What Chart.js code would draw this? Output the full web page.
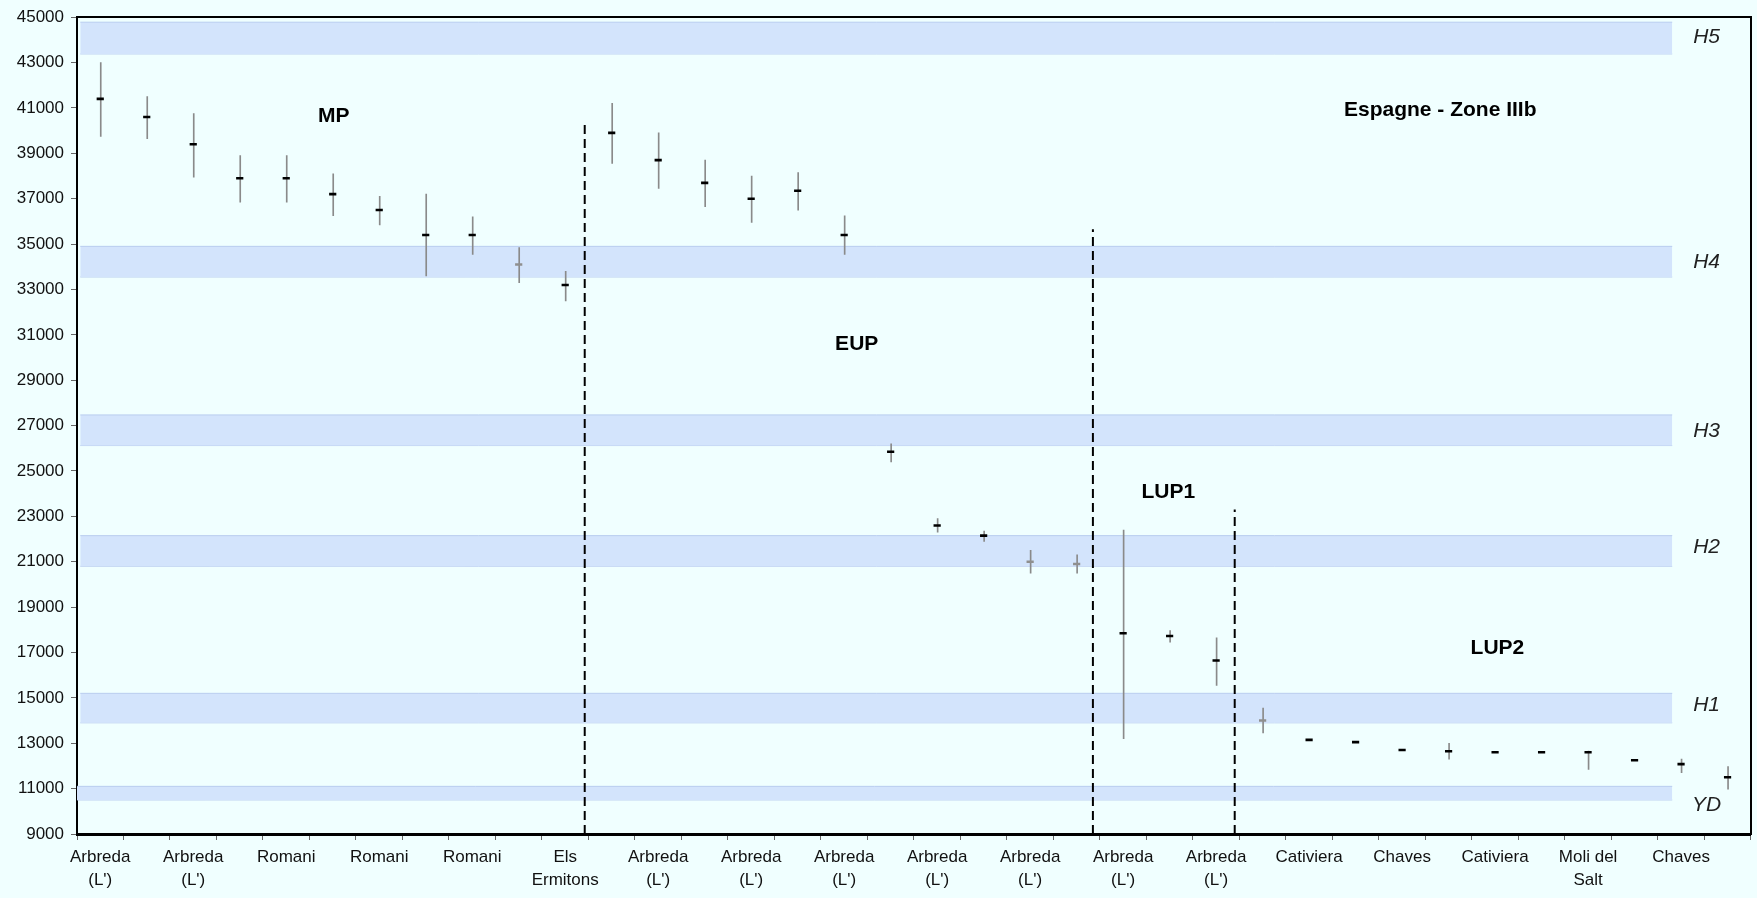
<!DOCTYPE html>
<html lang="fr">
<head>
<meta charset="utf-8">
<title>Espagne - Zone IIIb</title>
<script src="https://cdn.jsdelivr.net/npm/chart.js@4.4.1/dist/chart.umd.min.js"></script>
<style>
  html, body { margin: 0; padding: 0; background: #f0ffff; }
  #wrap { width: 1757px; height: 898px; position: relative; }
</style>
</head>
<body>
<div id="wrap"><canvas id="chart"></canvas></div>
<script>
// Sites, one per dated level (labels shown on every other level)
const categories = [
  ['Arbreda', "(L')"], '', ['Arbreda', "(L')"], '', 'Romani', '', 'Romani', '', 'Romani', '',
  ['Els', 'Ermitons'], '', ['Arbreda', "(L')"], '', ['Arbreda', "(L')"], '', ['Arbreda', "(L')"], '',
  ['Arbreda', "(L')"], '', ['Arbreda', "(L')"], '', ['Arbreda', "(L')"], '', ['Arbreda', "(L')"], '',
  'Cativiera', '', 'Chaves', '', 'Cativiera', '', ['Moli del', 'Salt'], '', 'Chaves', ''
];

// Calibrated ages (years BP)
const ages = [
  41400, 40600, 39400, 37900, 37900, 37200, 36500, 35400, 35400, 34100, 33200,
  39900, 38700, 37700, 37000, 37350, 35400, 25850, 22600, 22150, 21000, 20900,
  17850, 17730, 16650,
  14000, 13150, 13050, 12700, 12650, 12600, 12600, 12600, 12250, 12080, 11500
];

// Lower / upper bounds of each age (null: no visible range)
const ageLow = [
  39750, 39650, 37950, 36850, 36850, 36250, 35850, 33600, 34550, 33300, 32500,
  38550, 37450, 36650, 35950, 36500, 34550, 25400, 22300, 21900, 20500, 20500,
  13200, 17450, 15550,
  13450, null, null, null, 12300, null, null, 11850, null, 11700, 10980
];
const ageHigh = [
  43000, 41500, 40750, 38900, 38900, 38100, 37100, 37200, 36200, 34850, 33800,
  41200, 39900, 38700, 38000, 38150, 36250, 26200, 22900, 22350, 21500, 21300,
  22400, 17970, 17650,
  14550, null, null, null, 13000, null, null, 12650, null, 12300, 11970
];

// Levels drawn with a grey marker
const greyLevels = [9, 20, 21, 25];

// Heinrich events and Younger Dryas
const bandNames = ['H5', 'H4', 'H3', 'H2', 'H1', 'YD'];
const bandTop = [44780, 34900, 27470, 22150, 15200, 11100];
const bandBottom = [43380, 33550, 26120, 20800, 13900, 10500];
const bandLabelY = [44100, 34215, 26770, 21650, 14690, 10285];

// Period boundaries (position in level units, top age)
const dividerPos = [10.92, 21.85, 24.9];
const dividerTop = [40400, 35650, 23300];

// Period names
const periodNames = ['MP', 'EUP', 'LUP1', 'LUP2', 'Espagne - Zone IIIb'];
const periodPos = [5.52, 16.77, 23.47, 30.55, 29.32];
const periodY = [40630, 30600, 24050, 17190, 40915];

const FONT = 'Liberation Sans, Arial, Helvetica, sans-serif';
const nLevels = categories.length;

const datasets = [];

// Shaded event bands: upper edge filled down to lower edge
bandNames.forEach((name, i) => {
  const x0 = name === 'YD' ? 0 : 0.07;
  const x1 = 34.31;
  datasets.push({
    type: 'line', xAxisID: 'x2', yAxisID: 'y', order: 20,
    data: [{ x: x0, y: bandTop[i] }, { x: x1, y: bandTop[i] }],
    borderColor: '#b9cdef', borderWidth: 1, pointRadius: 0,
    backgroundColor: '#d3e4fc', fill: '+1'
  });
  datasets.push({
    type: 'line', xAxisID: 'x2', yAxisID: 'y', order: 20,
    data: [{ x: x0, y: bandBottom[i] }, { x: x1, y: bandBottom[i] }],
    borderColor: '#b9cdef', borderWidth: 1, pointRadius: 0, fill: false
  });
});

// Dashed period boundaries
dividerPos.forEach((p, i) => {
  datasets.push({
    type: 'line', xAxisID: 'x2', yAxisID: 'y', order: 5,
    data: [{ x: p, y: 9000 }, { x: p, y: dividerTop[i] }],
    borderColor: '#000', borderWidth: 2, borderDash: [9, 5],
    pointRadius: 0, fill: false
  });
});

// Age ranges as thin floating bars
datasets.push({
  type: 'bar', xAxisID: 'x', yAxisID: 'y', order: 3,
  data: ageLow.map((lo, i) => (lo === null ? null : [lo, ageHigh[i]])),
  backgroundColor: '#8a8a8a', borderWidth: 0, barThickness: 1
});

// Age markers
const markerColors = ages.map((_, i) => (greyLevels.includes(i) ? '#8f8f8f' : '#000000'));
datasets.push({
  type: 'line', xAxisID: 'x', yAxisID: 'y', order: 1,
  data: ages, showLine: false,
  pointStyle: 'line', pointRadius: 3.6, pointHoverRadius: 3.6,
  pointBorderWidth: 2.6, pointBorderColor: markerColors, pointBackgroundColor: markerColors
});

// Writes period names and band names at value coordinates
const textLabels = {
  id: 'textLabels',
  afterDatasetsDraw(chart) {
    const { ctx } = chart;
    const sx = chart.scales.x2, sy = chart.scales.y;
    ctx.save();
    ctx.fillStyle = '#000';
    ctx.textAlign = 'center';
    ctx.textBaseline = 'middle';
    ctx.font = 'bold 21px ' + FONT;
    periodNames.forEach((t, i) => {
      ctx.fillText(t, sx.getPixelForValue(periodPos[i]), sy.getPixelForValue(periodY[i]));
    });
    ctx.font = 'italic 21px ' + FONT;
    ctx.fillStyle = '#222';
    bandNames.forEach((t, i) => {
      ctx.fillText(t, sx.getPixelForValue(35.05), sy.getPixelForValue(bandLabelY[i]));
    });
    ctx.restore();
  }
};

new Chart(document.getElementById('chart'), {
  type: 'bar',
  data: { labels: categories, datasets },
  plugins: [textLabels],
  options: {
    responsive: true,
    maintainAspectRatio: false,
    animation: false,
    layout: { padding: { left: 0, top: 17, right: 6, bottom: 0 } },
    plugins: { legend: { display: false }, tooltip: { enabled: false } },
    scales: {
      x: {
        type: 'category', position: 'bottom', offset: true,
        grid: { offset: true, drawOnChartArea: false, drawTicks: true, tickLength: 6, color: '#666' },
        border: { display: true, color: '#000', width: 3 },
        ticks: {
          autoSkip: false, maxRotation: 0, minRotation: 0, padding: 6,
          color: '#111', font: { family: FONT, size: 17, lineHeight: 1.36 }
        },
        afterFit(s) { s.height = 64; }
      },
      x2: {
        type: 'linear', display: false, min: 0, max: nLevels, offset: false,
        grid: { offset: false }
      },
      xTop: {
        type: 'linear', position: 'top', min: 0, max: 1, offset: false,
        grid: { display: false, offset: false }, ticks: { display: false },
        border: { display: true, color: '#000', width: 2 },
        afterFit(s) { s.height = 0; }
      },
      y: {
        type: 'linear', position: 'left', min: 9000, max: 45000,
        grid: { drawOnChartArea: false, drawTicks: true, tickLength: 6, color: '#666' },
        border: { display: true, color: '#000', width: 2 },
        ticks: {
          stepSize: 2000, padding: 7, color: '#111',
          font: { family: FONT, size: 17 },
          callback: (v) => String(v)
        },
        afterFit(s) { s.width = 77; }
      },
      yRight: {
        type: 'linear', position: 'right', min: 0, max: 1,
        grid: { display: false }, ticks: { display: false },
        border: { display: true, color: '#000', width: 2 },
        afterFit(s) { s.width = 0; }
      }
    }
  }
});
</script>
</body>
</html>
